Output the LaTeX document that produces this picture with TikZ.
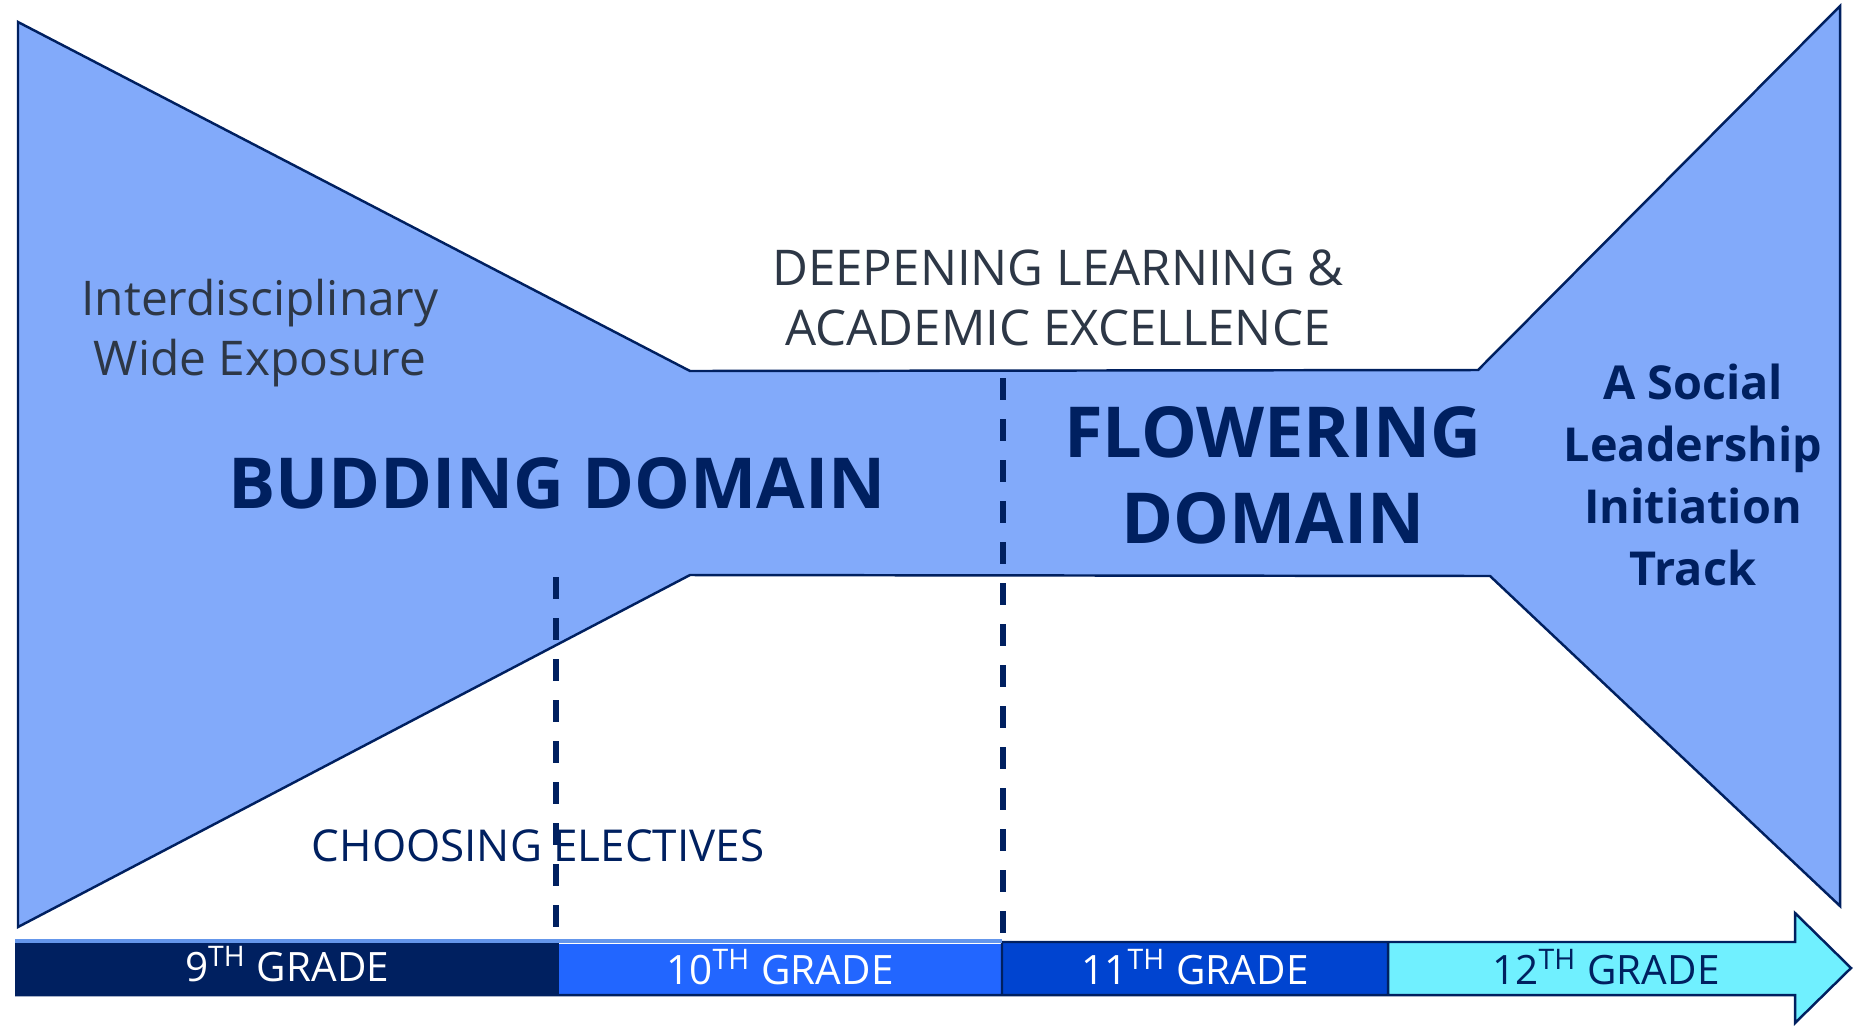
\documentclass[tikz,border=0pt]{standalone}
\usepackage{fontspec}
\setmainfont{Open Sans}
\usepackage{tikz}
\definecolor{funnel}{RGB}{130,170,250}
\definecolor{navy}{RGB}{0,32,96}
\definecolor{slate}{RGB}{45,55,70}
\definecolor{gradeten}{RGB}{34,102,255}
\definecolor{gradeeleven}{RGB}{0,68,208}
\definecolor{gradetwelve}{RGB}{112,240,255}
\definecolor{rim}{RGB}{100,150,235}

\begin{document}
\begin{tikzpicture}[x=0.01cm, y=-0.01cm,
        domainlabel/.style={font=\fontsize{20}{24.5}\selectfont\bfseries, text=navy, align=center},
        tracklabel/.style={font=\fontsize{13.3}{17.6}\selectfont\bfseries, text=navy, align=center},
        notelabel/.style={font=\fontsize{14}{17}\selectfont, text=slate, align=center},
        gradelabel/.style={font=\fontsize{11.5}{13}\selectfont, text=white},
        splitline/.style={navy, line width=1.6pt, dash pattern=on 0.22cm off 0.19cm}]
            \useasboundingbox (0, 0) rectangle (1864, 1030);

            \draw[fill=funnel, draw=navy, line width=0.7pt]
                (18, 22) -- (690, 371) -- (1478, 370) -- (1840, 6)
                    -- (1840, 906) -- (1490, 576) -- (690, 575) -- (18, 927) -- cycle;

            \fill[navy] (15, 942) rectangle (559, 995);
            \fill[gradeten] (559, 944) rectangle (1002, 995);
            \fill[gradeeleven] (1002, 942) rectangle (1388, 995);
            \fill[gradetwelve] (1388, 942) -- (1795, 942) -- (1795, 913) -- (1851, 968)
                -- (1795, 1023) -- (1795, 995) -- (1388, 995) -- cycle;
            \draw[navy, line width=0.7pt]
                (1002, 942) -- (1795, 942) -- (1795, 913) -- (1851, 968)
                    -- (1795, 1023) -- (1795, 995) -- (15, 995)
                (1002, 942) -- (1002, 995)
                (1388, 942) -- (1388, 995);
            \draw[rim, line width=0.9pt] (15, 941) -- (1002, 941);

            \draw[splitline] (556, 577) -- (556, 928);
            \draw[splitline] (1003, 378) -- (1003, 942);

            \node[notelabel, font=\fontsize{13.6}{17}\selectfont] (wide) at (260, 333) {Interdisciplinary\\Wide Exposure};
            \node[notelabel] (deep) at (1058, 298) {DEEPENING LEARNING \&\\ACADEMIC EXCELLENCE};
            \node[notelabel, font=\fontsize{12.5}{15}\selectfont, text=navy] (electives) at (538, 846) {CHOOSING ELECTIVES};
            \node[domainlabel] (budding) at (557, 483) {BUDDING DOMAIN};
            \node[domainlabel] (flowering) at (1273, 475) {FLOWERING\\DOMAIN};
            \node[tracklabel] (social) at (1693, 475) {A Social\\Leadership\\Initiation\\Track};

            \node[gradelabel] (nine) at (287, 964) {9\textsuperscript{TH} GRADE};
            \node[gradelabel] (ten) at (780, 967) {10\textsuperscript{TH} GRADE};
            \node[gradelabel] (eleven) at (1195, 967) {11\textsuperscript{TH} GRADE};
            \node[gradelabel, text=navy] (twelve) at (1606, 967) {12\textsuperscript{TH} GRADE};
        \end{tikzpicture}
\end{document}
